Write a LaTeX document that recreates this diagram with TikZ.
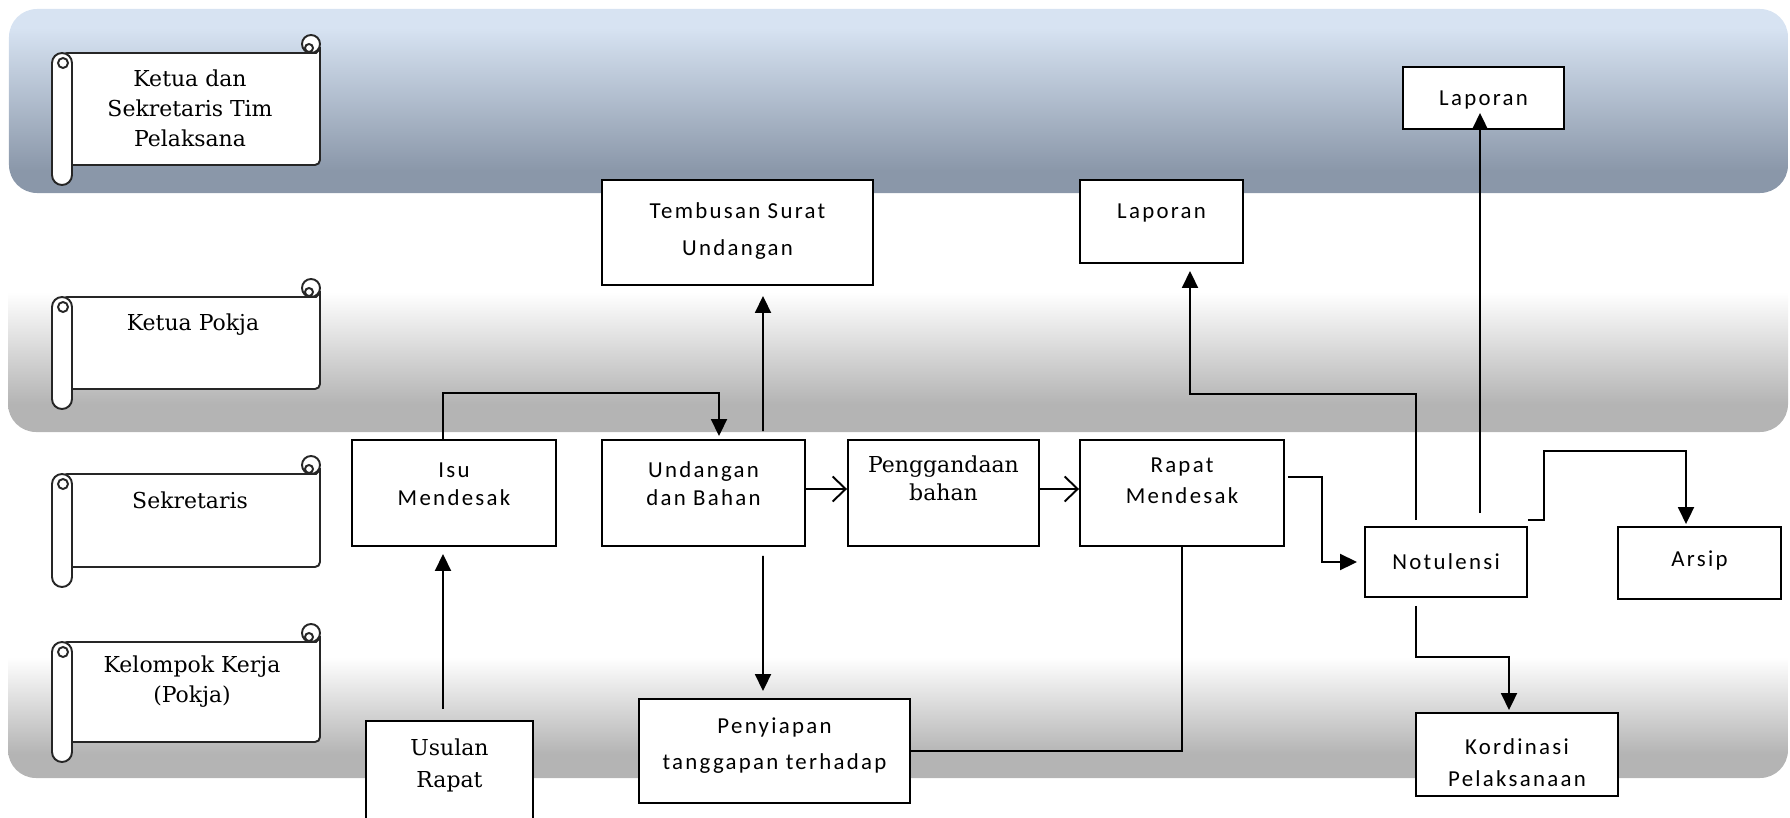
\documentclass[tikz,border=0pt]{standalone}
\usepackage{fontspec}
\setmainfont{DejaVu Serif}
\newfontfamily\boxfont[LetterSpace=10]{Carlito}
\usetikzlibrary{arrows.meta}
\def\tikzscale{1}
\definecolor{bluetop}{HTML}{D7E3F2}
\definecolor{bluebottom}{HTML}{8A97A9}
\definecolor{graybottom}{HTML}{B4B4B4}
\pgfdeclareverticalshading{laneblue}{100bp}{color(0bp)=(bluebottom); color(31bp)=(bluebottom); color(70bp)=(bluetop); color(100bp)=(bluetop)}
\pgfdeclareverticalshading{lanegray}{100bp}{color(0bp)=(graybottom); color(33bp)=(graybottom); color(65bp)=(white); color(100bp)=(white)}
\newcommand{\lanescroll}[2]{%
\filldraw[scrollline,rounded corners=0.1cm] (1.24,#1) -- (6.22,#1) arc[start angle=-90,end angle=0,radius=0.18] |- (1.24,#2) -- cycle;
\filldraw[scrollline] ([yshift=0.18cm]6.22,#1) circle[radius=0.18];
\draw[scrollline] ([xshift=-0.04cm,yshift=0.1cm]6.22,#1) circle[radius=0.08];
\filldraw[scrollline] ([yshift=-0.2cm]1.04,#1) arc[start angle=180,end angle=0,radius=0.2] -- ([yshift=-0.2cm]1.44,#2) arc[start angle=0,end angle=-180,radius=0.2] -- cycle;
\draw[scrollline] ([yshift=-0.2cm]1.26,#1) circle[radius=0.1];
}
\newcommand{\boxlines}[2]{\raisebox{#1}[0pt][0pt]{\begin{tabular}{@{}c@{}}#2\end{tabular}}}

\begin{document}
\begin{tikzpicture}[scale=\tikzscale,
  scrollline/.style={line width=1.1pt,draw=black!85,fill=white},
  lanetext/.style={align=center,font=\fontsize{12.5}{17}\selectfont},
  flowbox/.style={draw,line width=1.1pt,fill=white,inner sep=0pt,font=\boxfont\fontsize{13}{16}\selectfont},
  serifbox/.style={flowbox,font=\fontsize{12.5}{16}\selectfont},
  link/.style={line width=1.1pt},
  arrowline/.style={link,-{Triangle[length=0.34cm,width=0.32cm]}},
  openarrow/.style={link,-{Straight Barb[length=0.26cm,width=0.5cm]}}]
\useasboundingbox (0,0) rectangle (35.8,-16.34);
\shade[shading=laneblue,rounded corners=0.56cm] (0.18,-0.18) rectangle (35.76,-3.86);
\shade[shading=lanegray,rounded corners=0.56cm] (0.16,-5.14) rectangle (35.76,-8.64);
\shade[shading=lanegray,rounded corners=0.56cm] (0.16,-12.54) rectangle (35.76,-15.56);
\lanescroll{-1.06}{-3.30}
\lanescroll{-5.94}{-7.78}
\lanescroll{-9.48}{-11.34}
\lanescroll{-12.84}{-14.84}
\node[lanetext] (lanea) at (3.8,-2.16) {Ketua dan\\Sekretaris Tim\\Pelaksana};
\node[lanetext] (laneb) at (3.86,-6.5) {Ketua Pokja};
\node[lanetext] (lanec) at (3.8,-10.0) {Sekretaris};
\node[lanetext] (laned) at (3.84,-13.64) {Kelompok Kerja\\(Pokja)};
\node[flowbox,minimum width=4.08cm,minimum height=2.12cm] (isu) at (9.08,-9.86) {\boxlines{0.04cm}{Isu\\Mendesak}};
\node[flowbox,minimum width=4.06cm,minimum height=2.12cm] (undangan) at (14.07,-9.86) {\boxlines{0.04cm}{Undangan\\dan Bahan}};
\node[serifbox,minimum width=3.82cm,minimum height=2.12cm] (gandakan) at (18.87,-9.86) {\boxlines{0.14cm}{Penggandaan\\bahan}};
\node[flowbox,minimum width=4.08cm,minimum height=2.12cm] (rapat) at (23.64,-9.86) {\boxlines{0.1cm}{Rapat\\[0.06cm]Mendesak}};
\node[flowbox,minimum width=5.42cm,minimum height=2.1cm] (tembusan) at (14.75,-4.65) {\boxlines{-0.08cm}{Tembusan Surat\\[0.18cm]Undangan}};
\node[flowbox,minimum width=3.26cm,minimum height=1.66cm] (laporana) at (23.23,-4.43) {\boxlines{0.06cm}{Laporan}};
\node[flowbox,minimum width=3.22cm,minimum height=1.24cm] (laporanb) at (29.67,-1.96) {\boxlines{-0.14cm}{Laporan}};
\node[flowbox,minimum width=3.24cm,minimum height=1.4cm] (notulensi) at (28.92,-11.24) {\boxlines{-0.14cm}{Notulensi}};
\node[flowbox,minimum width=3.26cm,minimum height=1.44cm] (arsip) at (33.99,-11.26) {\boxlines{-0.06cm}{Arsip}};
\node[flowbox,minimum width=4.04cm,minimum height=1.66cm] (kordinasi) at (30.34,-15.09) {\boxlines{-0.32cm}{Kordinasi\\[0.08cm]Pelaksanaan}};
\node[flowbox,minimum width=5.42cm,minimum height=2.08cm] (penyiapan) at (15.49,-15.02) {\boxlines{0.0cm}{Penyiapan\\[0.16cm]tanggapan terhadap}};
\node[serifbox,minimum width=3.34cm,minimum height=2.4cm] (usulan) at (8.99,-15.62) {\boxlines{0.2cm}{Usulan\\[0.08cm]Rapat}};
\draw[arrowline] ([xshift=-0.13cm,yshift=0.22cm]usulan.north) -- ([xshift=-0.22cm,yshift=-0.14cm]isu.south);
\draw[arrowline] ([xshift=-0.22cm]isu.north) -- ++(0,0.92) -| ([xshift=0.31cm,yshift=0.06cm]undangan.north);
\draw[arrowline] ([xshift=1.19cm,yshift=0.16cm]undangan.north) -- ([xshift=0.51cm,yshift=-0.2cm]tembusan.south);
\draw[arrowline] ([xshift=1.19cm,yshift=-0.18cm]undangan.south) -- ([xshift=-0.23cm,yshift=0.14cm]penyiapan.north);
\draw[openarrow] ([yshift=0.08cm]undangan.east) -- ([yshift=0.08cm]gandakan.west);
\draw[openarrow] ([yshift=0.08cm]gandakan.east) -- ([yshift=0.08cm]rapat.west);
\draw[arrowline] ([xshift=0.06cm,yshift=0.32cm]rapat.east) -- ++(0.68,0) |- ([xshift=-0.14cm]notulensi.west);
\draw[link] (rapat.south) |- (penyiapan.east);
\draw[arrowline] ([xshift=-0.6cm,yshift=0.12cm]notulensi.north) -- ++(0,2.52) -| ([xshift=0.57cm,yshift=-0.14cm]laporana.south);
\draw[arrowline] ([xshift=0.68cm,yshift=0.26cm]notulensi.north) -- ([xshift=-0.07cm,yshift=0.34cm]laporanb.south);
\draw[arrowline] ([yshift=0.12cm]notulensi.north east) -- ++(0.32,0) -- ++(0,1.38) -| ([xshift=-0.27cm,yshift=0.04cm]arsip.north);
\draw[arrowline] ([xshift=-0.6cm,yshift=-0.16cm]notulensi.south) -- ++(0,-1.02) -| ([xshift=-0.16cm,yshift=0.04cm]kordinasi.north);
\end{tikzpicture}
\end{document}
